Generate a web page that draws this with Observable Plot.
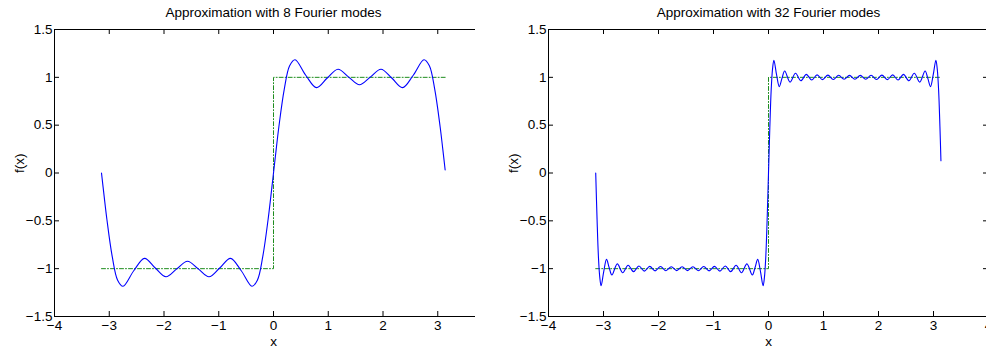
<!DOCTYPE html>
<html>
<head>
<meta charset="utf-8">
<script src="https://cdn.jsdelivr.net/npm/d3@7"></script>
<script src="https://cdn.jsdelivr.net/npm/@observablehq/plot@0.6"></script>
<style>
  html, body { margin: 0; padding: 0; background: #fff; }
  #wrap { position: relative; width: 986px; height: 347px; overflow: hidden; }
  #left { position: absolute; left: 0; top: 0; width: 475px; height: 347px; overflow: hidden; }
  #right { position: absolute; left: 488px; top: 0; width: 498px; height: 347px; overflow: hidden; }
  #wrap svg { display: block; max-width: none !important; height: 347px !important; }
</style>
</head>
<body>
<div id="wrap"><div id="left"></div><div id="right"></div></div>
<script>
// ---- data ----
const titles = ["Approximation with 8 Fourier modes", "Approximation with 32 Fourier modes"];
const xLabel = "x";
const yLabel = "f(x)";
const xTicks = [-4, -3, -2, -1, 0, 1, 2, 3, 4];
const xTickLabelsLeft = [-4, -3, -2, -1, 0, 1, 2, 3];      // the "4" of the left panel is cut away
const xTickLabelsRight = [-4, -3, -2, -1, 0, 1, 2, 3, 4];
const yTicks = [-1.5, -1, -0.5, 0, 0.5, 1, 1.5];

// square wave (green dash-dot)
const squareX = [-3.1416, 0, 0, 3.1416];
const squareY = [-1, -1, 1, 1];

// 8 Fourier modes (blue curve)
const x8 = [-3.1416, -3.0925, -3.0434, -2.9452, -2.8471, -2.7489, -2.5525, -2.3562, -2.1598, -1.9635,
  -1.7671, -1.5708, -1.3744, -1.1781, -0.9817, -0.7854, -0.5890, -0.3927, -0.2945, -0.1963,
  -0.0982, -0.0491, 0, 0.0491, 0.0982, 0.1963, 0.2945, 0.3927, 0.5890, 0.7854,
  0.9817, 1.1781, 1.3744, 1.5708, 1.7671, 1.9635, 2.1598, 2.3562, 2.5525, 2.7489,
  2.8471, 2.9452, 3.0434, 3.0925, 3.1353];
const y8 = [0, -0.247, -0.483, -0.874, -1.120, -1.184, -1.022, -0.892, -0.993, -1.085,
  -1.002, -0.922, -1.002, -1.085, -0.993, -0.892, -1.022, -1.184, -1.120, -0.874,
  -0.483, -0.247, 0, 0.247, 0.483, 0.874, 1.120, 1.184, 1.022, 0.892,
  0.993, 1.085, 1.002, 0.922, 1.002, 1.085, 0.993, 0.892, 1.022, 1.184,
  1.120, 0.874, 0.483, 0.247, 0.032];

// 32 Fourier modes (blue curve)
const x32 = [-3.1416, -3.1170, -3.0925, -3.0680, -3.0434, -2.9943, -2.9452, -2.8962, -2.8471, -2.7489,
  -2.6507, -2.5525, -2.4544, -2.3562, -2.2580, -2.1598, -2.0617, -1.9635, -1.8653, -1.7671,
  -1.6690, -1.5708, -1.4726, -1.3744, -1.2763, -1.1781, -1.0799, -0.9817, -0.8836, -0.7854,
  -0.6872, -0.5890, -0.4909, -0.3927, -0.2945, -0.2454, -0.1963, -0.1473, -0.0982, -0.0736,
  -0.0491, -0.0245, 0, 0.0245, 0.0491, 0.0736, 0.0982, 0.1473, 0.1963, 0.2454,
  0.2945, 0.3927, 0.4909, 0.5890, 0.6872, 0.7854, 0.8836, 0.9817, 1.0799, 1.1781,
  1.2763, 1.3744, 1.4726, 1.5708, 1.6690, 1.7671, 1.8653, 1.9635, 2.0617, 2.1598,
  2.2580, 2.3562, 2.4544, 2.5525, 2.6507, 2.7489, 2.8471, 2.8962, 2.9452, 2.9943,
  3.0434, 3.0680, 3.0925, 3.1170, 3.1353];
const y32 = [0, -0.483, -0.873, -1.089, -1.179, -1.025, -0.903, -0.990, -1.066, -0.950,
  -1.042, -0.964, -1.031, -0.972, -1.026, -0.976, -1.023, -0.978, -1.021, -0.980,
  -1.020, -0.980, -1.020, -0.980, -1.021, -0.978, -1.023, -0.976, -1.026, -0.972,
  -1.031, -0.964, -1.042, -0.950, -1.066, -0.990, -0.903, -1.025, -1.179, -1.089,
  -0.873, -0.483, 0, 0.483, 0.873, 1.089, 1.179, 1.025, 0.903, 0.990,
  1.066, 0.950, 1.042, 0.964, 1.031, 0.972, 1.026, 0.976, 1.023, 0.978,
  1.021, 0.980, 1.020, 0.980, 1.020, 0.980, 1.021, 0.978, 1.023, 0.976,
  1.026, 0.972, 1.031, 0.964, 1.042, 0.950, 1.066, 0.990, 0.903, 1.025,
  1.179, 1.089, 0.873, 0.483, 0.128];

// ---- drawing ----
const FONT = "'Liberation Sans', Arial, Helvetica, sans-serif";
const fmt = d => (d < 0 ? "\u2212" + Math.abs(d) : String(d));

function panel(xs, ys, title, xLabels, width, ml, mr) {
  const H = 347, mt = 29, mb = 31;
  const fh = H - mt - mb;
  const fw = width - ml - mr;
  const pts = xs.map((x, i) => ({x, y: ys[i]}));
  const sq = squareX.map((x, i) => ({x, y: squareY[i]}));
  const TL = 5;
  return Plot.plot({
    width, height: H,
    marginLeft: ml, marginRight: mr, marginTop: mt, marginBottom: mb,
    style: {fontFamily: FONT, fontSize: "13px", background: "#fff", color: "#000", maxWidth: "none", overflow: "visible"},
    x: {domain: [-4, 4]},
    y: {domain: [-1.5, 1.5]},
    marks: [
      Plot.line(sq, {x: "x", y: "y", stroke: "#1e8c1e", strokeWidth: 1, strokeDasharray: "4,2,1,2"}),
      Plot.line(pts, {x: "x", y: "y", stroke: "#0000ff", strokeWidth: 1.1, curve: "catmull-rom"}),
      Plot.frame({stroke: "#000", strokeWidth: 1}),
      // inward ticks, all four sides
      Plot.ruleX(xTicks, {x: d => d, stroke: "#000", insetTop: fh - TL}),
      Plot.ruleX(xTicks, {x: d => d, stroke: "#000", insetBottom: fh - TL}),
      Plot.ruleY(yTicks, {y: d => d, stroke: "#000", insetRight: fw - TL}),
      Plot.ruleY(yTicks, {y: d => d, stroke: "#000", insetLeft: fw - TL}),
      Plot.axisX(xLabels, {tickSize: 0, tickPadding: 3.5, tickFormat: fmt, label: null, fontSize: 13.5}),
      Plot.axisY(yTicks, {tickSize: 0, tickPadding: 2, tickFormat: fmt, label: null, fontSize: 13.5}),
      Plot.text([title], {frameAnchor: "top", dy: -16.5, fontSize: 13.5, lineAnchor: "middle", fill: "#000"}),
      Plot.text([xLabel], {frameAnchor: "bottom", dy: 29, fontSize: 13.5, lineAnchor: "bottom", fill: "#000"}),
      Plot.text([yLabel], {frameAnchor: "left", dx: -35, rotate: -90, fontSize: 13.5, lineAnchor: "middle", fill: "#000"})
    ]
  });
}

// left: frame from x=54 to x=492 (clipped at 475 like the reference)
document.getElementById("left").appendChild(panel(x8, y8, titles[0], xTickLabelsLeft, 502, 54, 10));
// right: frame from x=548 to x=988 (clipped at page edge)
document.getElementById("right").appendChild(panel(x32, y32, titles[1], xTickLabelsRight, 510, 60, 10));
</script>
</body>
</html>
